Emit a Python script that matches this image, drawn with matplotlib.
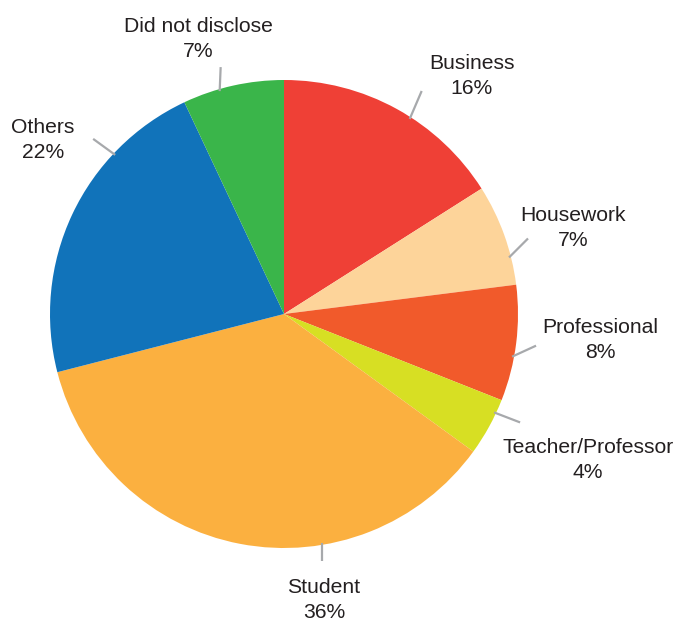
import numpy as np
import matplotlib
matplotlib.use("Agg")
import matplotlib.pyplot as plt

# Occupation breakdown of respondents (percent)
categories = ["Business", "Housework", "Professional", "Teacher/Professor",
              "Student", "Others", "Did not disclose"]
shares = [16, 7, 8, 4, 36, 22, 7]
colors = ["#EF4036", "#FDD49A", "#F15A2B", "#D7DF23",
          "#FBB040", "#1173BA", "#3AB54A"]

W, H = 678, 621
fig = plt.figure(figsize=(W / 100, H / 100), dpi=100)
ax = fig.add_axes([0, 0, 1, 1])

cx, cy, R = 284, H - 314, 234
ax.pie(shares, colors=colors, startangle=90, counterclock=False,
       center=(cx, cy), radius=R, frame=True,
       wedgeprops=dict(linewidth=0))

# Leader lines: where each touches the rim (deg clockwise from 12 o'clock)
# and the offset of its outer end, plus the label centre (pixels, y down).
leader_angle = [32.8, 75.9, 100.6, 115.1, 170.5, 313.3, 343.9]
leader_offset = [(12, -28), (19, -19), (24, -11), (26, 10),
                 (0, 18), (-22, -16), (1, -24)]
label_pos = [(472, 76), (573, 228), (600, 340), (588, 460),
             (324, 600), (43, 140), (198, 39)]

for name, val, ang, off, pos in zip(categories, shares, leader_angle,
                                    leader_offset, label_pos):
    t = np.deg2rad(ang)
    x0 = cx + (R - 2) * np.sin(t)
    y0 = cy + (R - 2) * np.cos(t)
    ax.plot([x0, x0 + off[0]], [y0, y0 - off[1]], color="#A7A9AC",
            lw=1.6, solid_capstyle="butt", zorder=3)
    ax.text(pos[0], H - pos[1], f"{name}\n{val}%", ha="center", va="center",
            fontsize=15.2, family="Liberation Sans", color="#231F20",
            linespacing=1.42)

ax.set_xlim(0, W)
ax.set_ylim(0, H)
ax.set_aspect("equal")
ax.axis("off")
fig.savefig("out.png", dpi=100)
